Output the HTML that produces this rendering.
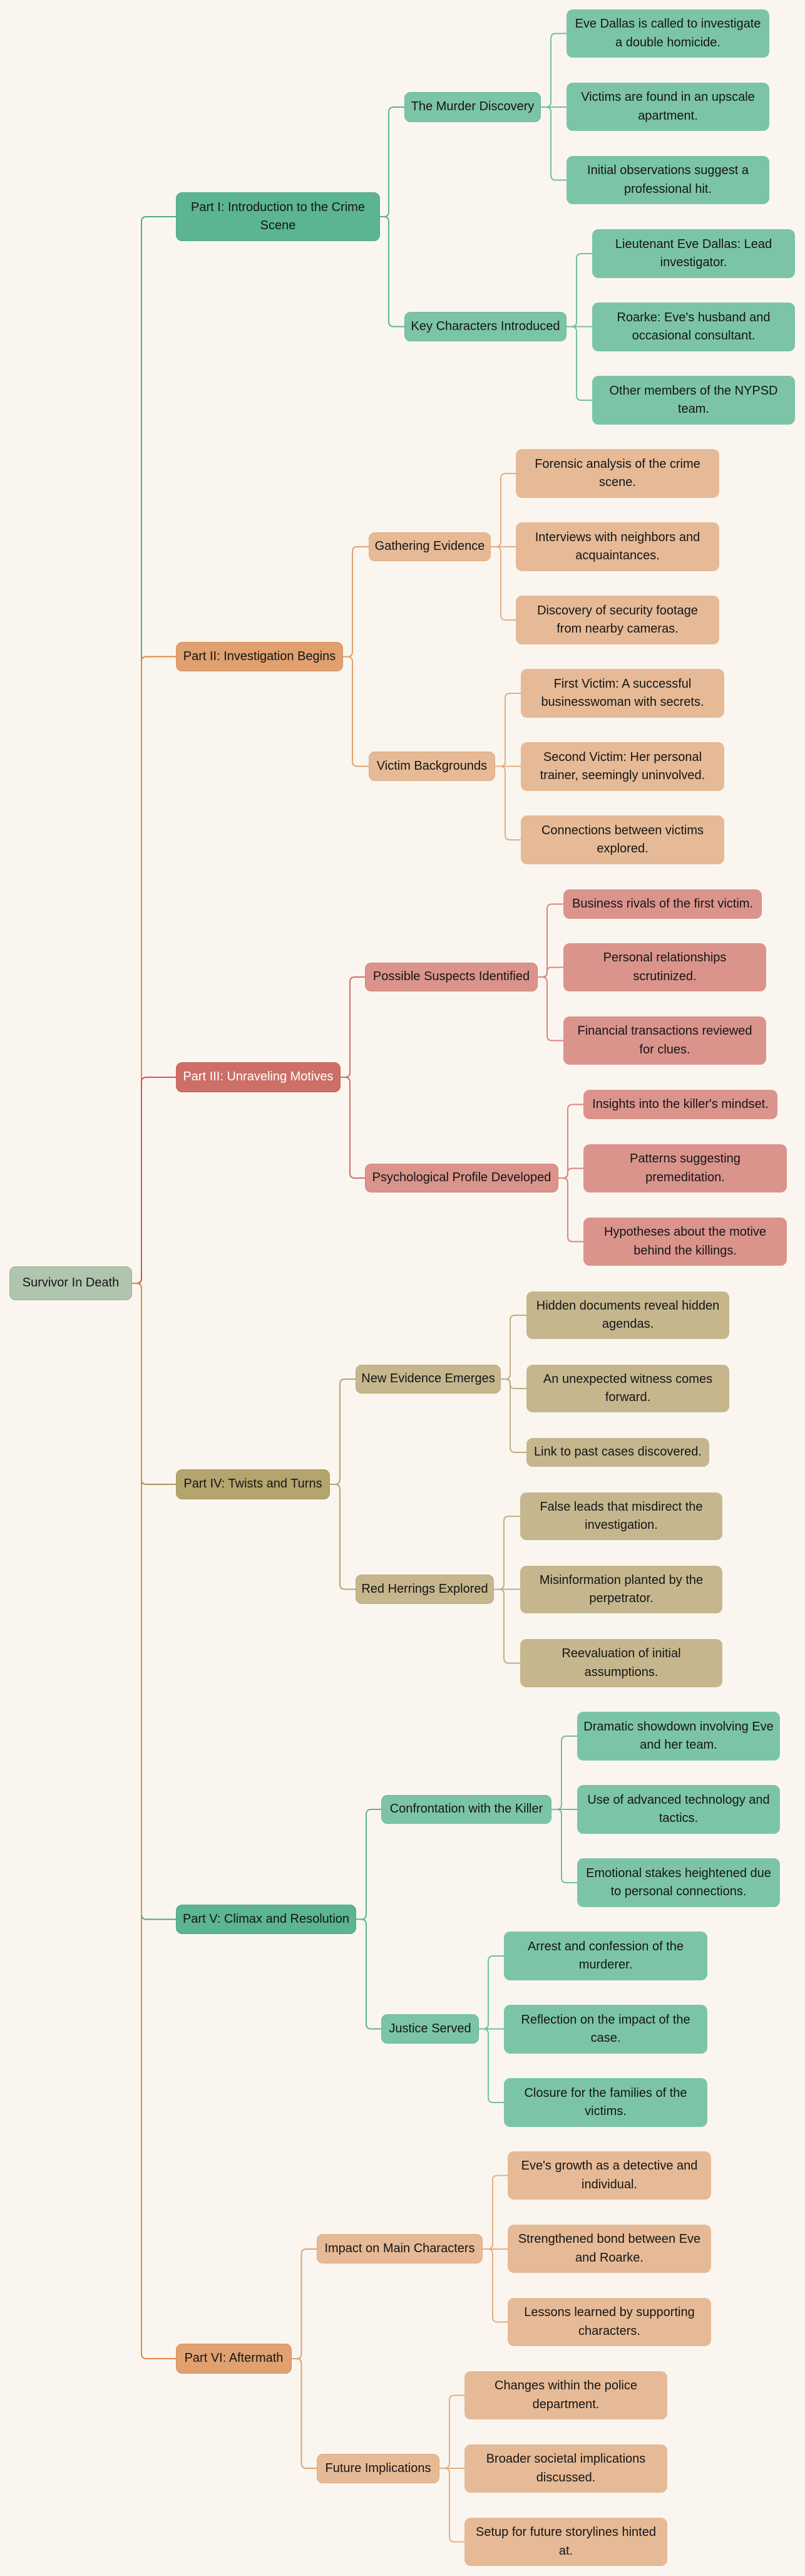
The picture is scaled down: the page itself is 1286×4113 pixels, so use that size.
<!DOCTYPE html>
<html>
<head>
<meta charset="utf-8">
<style>
  html, body { margin:0; padding:0; }
  body { width:1286px; height:4113px; background:#FAF6EF; position:relative; overflow:hidden;
         font-family:"Liberation Sans", Arial, sans-serif; }
  svg { position:absolute; left:0; top:0; }
  .n { position:absolute; box-sizing:border-box; display:flex; align-items:center; justify-content:center;
       text-align:center; font-size:20px; line-height:29.5px; white-space:nowrap; color:#151515;
       border-radius:10px; }
  .root { background:#AFC5AD; border:1px solid #98B294; }
  .pg { background:#5BB592; border:1px solid #4EA984; }
  .sg { background:#7CC4A8; border:1px solid #6BB997; }
  .lg { background:#7CC4A8; }
  .po { background:#E0A06F; border:1px solid #D8925C; }
  .so { background:#E6BA96; border:1px solid #DFAA80; }
  .lo { background:#E6BA96; }
  .pr { background:#CD6F67; border:1px solid #C4625A; color:#fff; }
  .sr { background:#DA948C; border:1px solid #D3837A; }
  .lr { background:#DA948C; }
  .pt { background:#B4A46D; border:1px solid #A8975C; }
  .st { background:#C5B68D; border:1px solid #BBAA7A; }
  .lt { background:#C5B68D; }
</style>
</head>
<body>
<svg width="1286" height="4113" viewBox="0 0 1286 4113" fill="none" stroke-width="2">
  <!-- root edges -->
  <path stroke="#55AA88" d="M211 2049 H218 Q226 2049 226 2041 V354 Q226 346 234 346 H281"/>
  <path stroke="#DC8A4A" d="M211 2049 H218 Q226 2049 226 2041 V1056.5 Q226 1048.5 234 1048.5 H281"/>
  <path stroke="#CD5A50" d="M211 2049 H218 Q226 2049 226 2041 V1728 Q226 1720 234 1720 H281"/>
  <path stroke="#A8955A" d="M211 2049 H218 Q226 2049 226 2057 V2362 Q226 2370 234 2370 H281"/>
  <path stroke="#4FA584" d="M211 2049 H218 Q226 2049 226 2057 V3056.5 Q226 3064.5 234 3064.5 H281"/>
  <path stroke="#DC8A4A" d="M211 2049 H218 Q226 2049 226 2057 V3758 Q226 3766 234 3766 H281"/>

  <!-- part to sub -->
  <g stroke="#5BB592">
    <path d="M607 346 H613 Q621 346 621 338 V179 Q621 171 629 171 H646"/>
    <path d="M607 346 H613 Q621 346 621 354 V513.5 Q621 521.5 629 521.5 H646"/>
  </g>
  <g stroke="#E0A06F">
    <path d="M548 1048.5 H555 Q563 1048.5 563 1040.5 V881 Q563 873 571 873 H589"/>
    <path d="M548 1048.5 H555 Q563 1048.5 563 1056.5 V1215.5 Q563 1223.5 571 1223.5 H589"/>
  </g>
  <g stroke="#CF6E66">
    <path d="M544 1720 H551 Q559 1720 559 1712 V1568 Q559 1560 567 1560 H583"/>
    <path d="M544 1720 H551 Q559 1720 559 1728 V1873 Q559 1881 567 1881 H583"/>
  </g>
  <g stroke="#B4A46D">
    <path d="M527 2370 H535 Q543 2370 543 2362 V2210 Q543 2202 551 2202 H568"/>
    <path d="M527 2370 H535 Q543 2370 543 2378 V2529.5 Q543 2537.5 551 2537.5 H568"/>
  </g>
  <g stroke="#5BB592">
    <path d="M569 3064.5 H577 Q585 3064.5 585 3056.5 V2897 Q585 2889 593 2889 H609"/>
    <path d="M569 3064.5 H577 Q585 3064.5 585 3072.5 V3231.5 Q585 3239.5 593 3239.5 H609"/>
  </g>
  <g stroke="#E0A06F">
    <path d="M466 3766 H473.5 Q481.5 3766 481.5 3758 V3599 Q481.5 3591 489.5 3591 H506"/>
    <path d="M466 3766 H473.5 Q481.5 3766 481.5 3774 V3933 Q481.5 3941 489.5 3941 H506"/>
  </g>

  <!-- sub to leaf -->
  <g stroke="#72BF9F">
    <path d="M864 171 H872 Q880 171 880 163 V61.5 Q880 53.5 888 53.5 H905"/>
    <path d="M864 171 H905"/>
    <path d="M864 171 H872 Q880 171 880 179 V279.5 Q880 287.5 888 287.5 H905"/>
    <path d="M905 521.5 H913 Q921 521.5 921 513.5 V413 Q921 405 929 405 H946"/>
    <path d="M905 521.5 H946"/>
    <path d="M905 521.5 H913 Q921 521.5 921 529.5 V631 Q921 639 929 639 H946"/>
  </g>
  <g stroke="#E3AE84">
    <path d="M784 873 H792 Q800 873 800 865 V764 Q800 756 808 756 H824"/>
    <path d="M784 873 H824"/>
    <path d="M784 873 H792 Q800 873 800 881 V982 Q800 990 808 990 H824"/>
    <path d="M791 1223.5 H799 Q807 1223.5 807 1215.5 V1115 Q807 1107 815 1107 H832"/>
    <path d="M791 1223.5 H832"/>
    <path d="M791 1223.5 H799 Q807 1223.5 807 1231.5 V1333 Q807 1341 815 1341 H832"/>
  </g>
  <g stroke="#D8877E">
    <path d="M859 1560 H866 Q874 1560 874 1552 V1451.5 Q874 1443.5 882 1443.5 H900"/>
    <path d="M859 1560 H867 Q874 1560 874 1553 V1551.5 Q874 1544.5 881 1544.5 H900"/>
    <path d="M859 1560 H866 Q874 1560 874 1568 V1653.5 Q874 1661.5 882 1661.5 H900"/>
    <path d="M892 1881 H899 Q907 1881 907 1873 V1771.5 Q907 1763.5 915 1763.5 H932"/>
    <path d="M892 1881 H900 Q907 1881 907 1874 V1872.5 Q907 1865.5 914 1865.5 H932"/>
    <path d="M892 1881 H899 Q907 1881 907 1889 V1974.5 Q907 1982.5 915 1982.5 H932"/>
  </g>
  <g stroke="#BFAF82">
    <path d="M800 2202 H807 Q815 2202 815 2194 V2108 Q815 2100 823 2100 H841"/>
    <path d="M800 2202 H808 Q815 2202 815 2209 V2210 Q815 2217 822 2217 H841"/>
    <path d="M800 2202 H807 Q815 2202 815 2210 V2311 Q815 2319 823 2319 H841"/>
    <path d="M789 2537.5 H797 Q805 2537.5 805 2529.5 V2429 Q805 2421 813 2421 H831"/>
    <path d="M789 2537.5 H831"/>
    <path d="M789 2537.5 H797 Q805 2537.5 805 2545.5 V2647.5 Q805 2655.5 813 2655.5 H831"/>
  </g>
  <g stroke="#72BF9F">
    <path d="M881 2889 H889 Q897 2889 897 2881 V2780 Q897 2772 905 2772 H922"/>
    <path d="M881 2889 H922"/>
    <path d="M881 2889 H889 Q897 2889 897 2897 V2998 Q897 3006 905 3006 H922"/>
    <path d="M765 3239.5 H772 Q780 3239.5 780 3231.5 V3131 Q780 3123 788 3123 H805"/>
    <path d="M765 3239.5 H805"/>
    <path d="M765 3239.5 H772 Q780 3239.5 780 3247.5 V3349 Q780 3357 788 3357 H805"/>
  </g>
  <g stroke="#E3AE84">
    <path d="M771 3591 H779 Q787 3591 787 3583 V3481.5 Q787 3473.5 795 3473.5 H811"/>
    <path d="M771 3591 H811"/>
    <path d="M771 3591 H779 Q787 3591 787 3599 V3699.5 Q787 3707.5 795 3707.5 H811"/>
    <path d="M702 3941 H710 Q718 3941 718 3933 V3832.5 Q718 3824.5 726 3824.5 H742"/>
    <path d="M702 3941 H742"/>
    <path d="M702 3941 H710 Q718 3941 718 3949 V4050.5 Q718 4058.5 726 4058.5 H742"/>
  </g>
</svg>

<!-- Root -->
<div class="n root" style="left:15px;top:2022px;width:196px;height:54px;">Survivor In Death</div>

<!-- Part I -->
<div class="n pg" style="left:281px;top:307px;width:326px;height:78px;">Part I: Introduction to the Crime<br>Scene</div>
<div class="n sg" style="left:646px;top:147px;width:218px;height:48px;">The Murder Discovery</div>
<div class="n lg" style="left:905px;top:15px;width:324px;height:77px;">Eve Dallas is called to investigate<br>a double homicide.</div>
<div class="n lg" style="left:905px;top:132px;width:324px;height:77px;">Victims are found in an upscale<br>apartment.</div>
<div class="n lg" style="left:905px;top:249px;width:324px;height:77px;">Initial observations suggest a<br>professional hit.</div>
<div class="n sg" style="left:646px;top:498px;width:259px;height:47px;">Key Characters Introduced</div>
<div class="n lg" style="left:946px;top:366px;width:324px;height:78px;">Lieutenant Eve Dallas: Lead<br>investigator.</div>
<div class="n lg" style="left:946px;top:483px;width:324px;height:78px;">Roarke: Eve's husband and<br>occasional consultant.</div>
<div class="n lg" style="left:946px;top:600px;width:324px;height:78px;">Other members of the NYPSD<br>team.</div>

<!-- Part II -->
<div class="n po" style="left:281px;top:1025px;width:267px;height:47px;">Part II: Investigation Begins</div>
<div class="n so" style="left:589px;top:850px;width:195px;height:46px;">Gathering Evidence</div>
<div class="n lo" style="left:824px;top:717px;width:325px;height:78px;">Forensic analysis of the crime<br>scene.</div>
<div class="n lo" style="left:824px;top:834px;width:325px;height:78px;">Interviews with neighbors and<br>acquaintances.</div>
<div class="n lo" style="left:824px;top:951px;width:325px;height:78px;">Discovery of security footage<br>from nearby cameras.</div>
<div class="n so" style="left:589px;top:1200px;width:202px;height:47px;">Victim Backgrounds</div>
<div class="n lo" style="left:832px;top:1068px;width:325px;height:78px;">First Victim: A successful<br>businesswoman with secrets.</div>
<div class="n lo" style="left:832px;top:1185px;width:325px;height:78px;">Second Victim: Her personal<br>trainer, seemingly uninvolved.</div>
<div class="n lo" style="left:832px;top:1302px;width:325px;height:78px;">Connections between victims<br>explored.</div>

<!-- Part III -->
<div class="n pr" style="left:281px;top:1696px;width:263px;height:48px;">Part III: Unraveling Motives</div>
<div class="n sr" style="left:583px;top:1537px;width:276px;height:46px;">Possible Suspects Identified</div>
<div class="n lr" style="left:900px;top:1420px;width:317px;height:47px;">Business rivals of the first victim.</div>
<div class="n lr" style="left:900px;top:1506px;width:324px;height:77px;">Personal relationships<br>scrutinized.</div>
<div class="n lr" style="left:900px;top:1623px;width:324px;height:77px;">Financial transactions reviewed<br>for clues.</div>
<div class="n sr" style="left:583px;top:1858px;width:309px;height:46px;">Psychological Profile Developed</div>
<div class="n lr" style="left:932px;top:1740px;width:310px;height:47px;">Insights into the killer's mindset.</div>
<div class="n lr" style="left:932px;top:1827px;width:325px;height:77px;">Patterns suggesting<br>premeditation.</div>
<div class="n lr" style="left:932px;top:1944px;width:325px;height:77px;">Hypotheses about the motive<br>behind the killings.</div>

<!-- Part IV -->
<div class="n pt" style="left:281px;top:2346px;width:246px;height:48px;">Part IV: Twists and Turns</div>
<div class="n st" style="left:568px;top:2179px;width:232px;height:46px;">New Evidence Emerges</div>
<div class="n lt" style="left:841px;top:2062px;width:324px;height:76px;">Hidden documents reveal hidden<br>agendas.</div>
<div class="n lt" style="left:841px;top:2179px;width:324px;height:76px;">An unexpected witness comes<br>forward.</div>
<div class="n lt" style="left:841px;top:2296px;width:292px;height:46px;">Link to past cases discovered.</div>
<div class="n st" style="left:568px;top:2514px;width:221px;height:47px;">Red Herrings Explored</div>
<div class="n lt" style="left:831px;top:2383px;width:323px;height:76px;">False leads that misdirect the<br>investigation.</div>
<div class="n lt" style="left:831px;top:2500px;width:323px;height:76px;">Misinformation planted by the<br>perpetrator.</div>
<div class="n lt" style="left:831px;top:2617px;width:323px;height:77px;">Reevaluation of initial<br>assumptions.</div>

<!-- Part V -->
<div class="n pg" style="left:281px;top:3041px;width:288px;height:47px;">Part V: Climax and Resolution</div>
<div class="n sg" style="left:609px;top:2866px;width:272px;height:46px;">Confrontation with the Killer</div>
<div class="n lg" style="left:922px;top:2733px;width:324px;height:78px;">Dramatic showdown involving Eve<br>and her team.</div>
<div class="n lg" style="left:922px;top:2850px;width:324px;height:78px;">Use of advanced technology and<br>tactics.</div>
<div class="n lg" style="left:922px;top:2967px;width:324px;height:78px;">Emotional stakes heightened due<br>to personal connections.</div>
<div class="n sg" style="left:609px;top:3216px;width:156px;height:47px;">Justice Served</div>
<div class="n lg" style="left:805px;top:3084px;width:325px;height:78px;">Arrest and confession of the<br>murderer.</div>
<div class="n lg" style="left:805px;top:3201px;width:325px;height:78px;">Reflection on the impact of the<br>case.</div>
<div class="n lg" style="left:805px;top:3318px;width:325px;height:78px;">Closure for the families of the<br>victims.</div>

<!-- Part VI -->
<div class="n po" style="left:281px;top:3742px;width:185px;height:48px;">Part VI: Aftermath</div>
<div class="n so" style="left:506px;top:3567px;width:265px;height:47px;">Impact on Main Characters</div>
<div class="n lo" style="left:811px;top:3435px;width:325px;height:77px;">Eve's growth as a detective and<br>individual.</div>
<div class="n lo" style="left:811px;top:3552px;width:325px;height:77px;">Strengthened bond between Eve<br>and Roarke.</div>
<div class="n lo" style="left:811px;top:3669px;width:325px;height:77px;">Lessons learned by supporting<br>characters.</div>
<div class="n so" style="left:506px;top:3918px;width:196px;height:47px;">Future Implications</div>
<div class="n lo" style="left:742px;top:3786px;width:324px;height:77px;">Changes within the police<br>department.</div>
<div class="n lo" style="left:742px;top:3903px;width:324px;height:77px;">Broader societal implications<br>discussed.</div>
<div class="n lo" style="left:742px;top:4020px;width:324px;height:77px;">Setup for future storylines hinted<br>at.</div>
</body>
</html>
